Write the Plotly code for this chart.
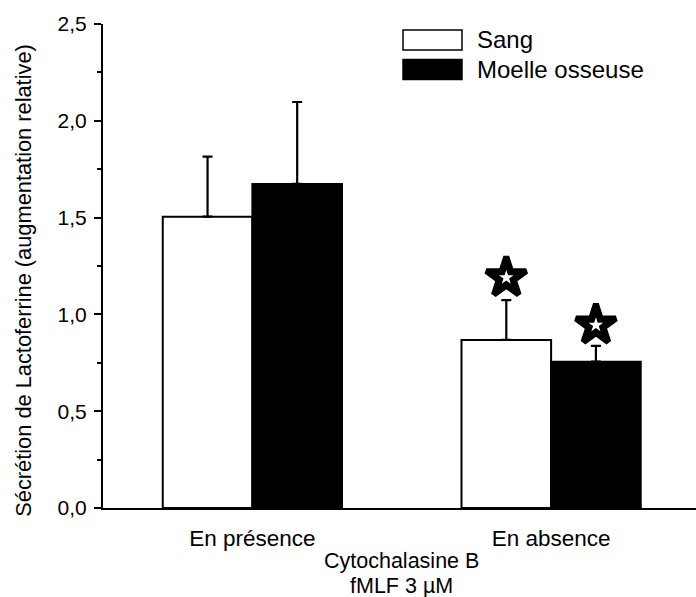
import plotly.graph_objects as go

categories = ["En présence", "En absence"]
series_names = ["Sang", "Moelle osseuse"]
sang_values = [1.505, 0.868]
sang_errors = [0.31, 0.206]
moelle_values = [1.674, 0.756]
moelle_errors = [0.423, 0.081]
sang_star_y = [None, 1.19]
moelle_star_y = [None, 0.945]
y_tick_values = [0.0, 0.5, 1.0, 1.5, 2.0, 2.5]
y_title = "Sécrétion de Lactoferrine (augmentation relative)"
x_title_lines = ["Cytochalasine B", "fMLF 3 µM"]

FONT = "Arial, Liberation Sans, sans-serif"

fig = go.Figure()
fig.add_trace(go.Bar(
    x=categories, y=sang_values, name=series_names[0], offsetgroup="a",
    marker=dict(color="white", line=dict(color="black", width=2)),
    error_y=dict(type="data", array=sang_errors, arrayminus=[0, 0], symmetric=False,
                 color="black", thickness=2.2, width=5),
    showlegend=False,
))
fig.add_trace(go.Bar(
    x=categories, y=moelle_values, name=series_names[1], offsetgroup="b",
    marker=dict(color="black", line=dict(color="black", width=2)),
    error_y=dict(type="data", array=moelle_errors, arrayminus=[0, 0], symmetric=False,
                 color="black", thickness=2.2, width=5),
    showlegend=False,
))
# significance stars (black star with white inner star)
for ys, grp in [(sang_star_y, "a"), (moelle_star_y, "b")]:
    fig.add_trace(go.Scatter(
        x=categories, y=ys, mode="markers", offsetgroup=grp, showlegend=False,
        marker=dict(symbol="star", size=30, color="black", line=dict(width=6, color="black")),
        hoverinfo="skip", cliponaxis=False,
    ))
    fig.add_trace(go.Scatter(
        x=categories, y=ys, mode="markers", offsetgroup=grp, showlegend=False,
        marker=dict(symbol="star", size=11, color="white", line=dict(width=0)),
        hoverinfo="skip", cliponaxis=False,
    ))

# custom legend with wide swatches
legend_fills = ["white", "black"]
shapes = []
annotations = []
for i, (name, fill) in enumerate(zip(series_names, legend_fills)):
    y0 = 1 - (6 + i * 29.5) / 484.5
    y1 = y0 - 20 / 484.5
    shapes.append(dict(type="rect", xref="paper", yref="paper",
                       x0=(403 - 103) / 593, x1=(462 - 103) / 593, y0=y1, y1=y0,
                       line=dict(color="black", width=1.5), fillcolor=fill))
    annotations.append(dict(text=name, xref="paper", yref="paper",
                            x=(475 - 103) / 593, y=(y0 + y1) / 2, xanchor="left", yanchor="middle",
                            showarrow=False, font=dict(size=24, color="black", family=FONT)))

annotations.append(dict(text=y_title, xref="paper", yref="paper", x=-(103 - 24) / 593,
                        y=(508.5 - 281) / 484.5, textangle=-90, xanchor="center", yanchor="middle",
                        showarrow=False, font=dict(size=21.8, color="black", family=FONT)))
for line, ypix in zip(x_title_lines, [562, 587]):
    annotations.append(dict(text=line, xref="paper", yref="paper",
                            x=(401 - 103) / 593, y=-(ypix - 508.5) / 484.5, xanchor="center", yanchor="middle",
                            showarrow=False, font=dict(size=21.5, color="black", family=FONT)))

fig.update_layout(
    width=696, height=597,
    margin=dict(l=103, r=0, t=24, b=88.5),
    paper_bgcolor="white", plot_bgcolor="white",
    barmode="group", bargap=0.4, bargroupgap=0, scattermode="group",
    separators=", ",
    font=dict(family=FONT, color="black"),
    shapes=shapes, annotations=annotations,
    showlegend=False,
)
fig.update_xaxes(
    range=[-0.5, 1.485], showline=True, linecolor="black", linewidth=2,
    ticks="", showgrid=False, zeroline=False, ticklabelstandoff=9,
    tickfont=dict(size=22.5, color="black", family=FONT),
)
fig.update_yaxes(
    range=[0, 2.5], showline=True, linecolor="black", linewidth=2,
    ticks="outside", ticklen=7, tickwidth=2, tickcolor="black",
    tickvals=y_tick_values, tickformat=".1f",
    minor=dict(dtick=0.25, ticks="outside", ticklen=4, tickwidth=2, tickcolor="black"),
    showgrid=False, zeroline=False, ticklabelstandoff=3,
    tickfont=dict(size=21, color="black", family=FONT),
)
fig.write_html("out.html", config={"displayModeBar": False},
               post_script="document.body.style.margin='0';document.body.style.overflow='hidden';")
